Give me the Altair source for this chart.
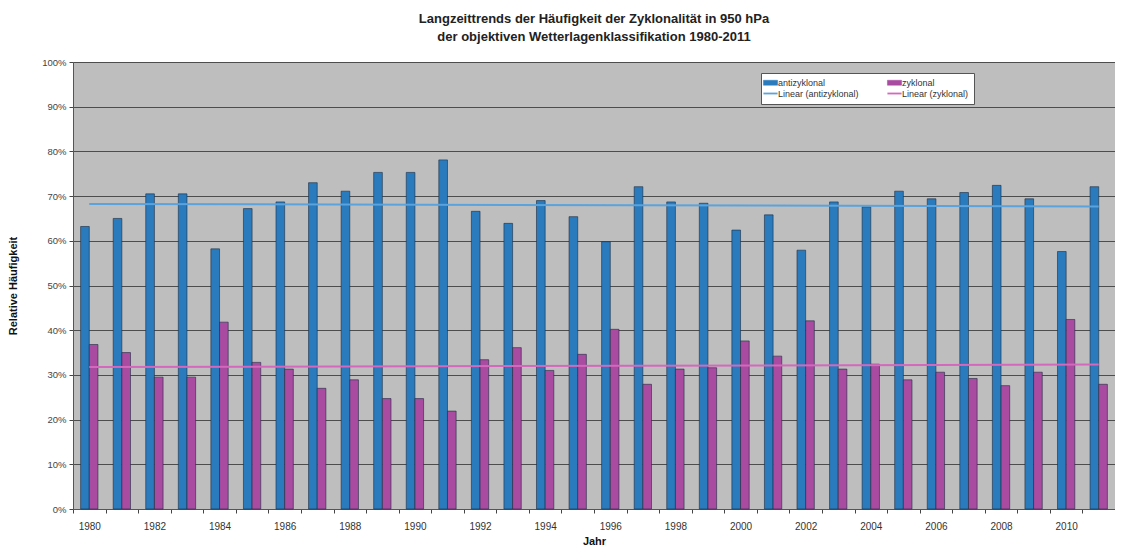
import altair as alt
import pandas as pd

years = list(range(1980, 2012))
antizyklonal = [63.2, 65.0, 70.5, 70.5, 58.2, 67.2, 68.7, 73.0, 71.1, 75.3, 75.3, 78.1,
                66.6, 63.9, 69.0, 65.4, 59.8, 72.1, 68.7, 68.4, 62.4, 65.8, 57.9, 68.7,
                67.6, 71.1, 69.4, 70.8, 72.4, 69.4, 57.6, 72.1]
zyklonal = [36.8, 35.0, 29.5, 29.5, 41.8, 32.8, 31.3, 27.0, 28.9, 24.7, 24.7, 21.9,
            33.4, 36.1, 31.0, 34.6, 40.2, 27.9, 31.3, 31.6, 37.6, 34.2, 42.1, 31.3,
            32.4, 28.9, 30.6, 29.2, 27.6, 30.6, 42.4, 27.9]
series_names = ["antizyklonal", "zyklonal"]
legend_names = ["antizyklonal", "zyklonal", "Linear (antizyklonal)", "Linear (zyklonal)"]
legend_colors = ["#2a7bbd", "#a94ba1", "#5aa3dc", "#d468bc"]
y_ticks = [0, 0.1, 0.2, 0.3, 0.4, 0.5, 0.6, 0.7, 0.8, 0.9, 1.0]
title_lines = ["Langzeittrends der Häufigkeit der Zyklonalität in 950 hPa",
               "der objektiven Wetterlagenklassifikation  1980-2011"]

rows = []
for i, yr in enumerate(years):
    rows.append({"year": yr, "Serie": "antizyklonal", "value": antizyklonal[i] / 100})
    rows.append({"year": yr, "Serie": "zyklonal", "value": zyklonal[i] / 100})
df = pd.DataFrame(rows)

FONT = "Liberation Sans"

color_scale = alt.Scale(domain=legend_names, range=legend_colors)

c = legend_colors
legend = alt.Legend(
    title=None, orient="none", legendX=688, legendY=11, columns=2, direction="horizontal",
    fillColor="white", strokeColor="#555555", padding=5,
    labelFont=FONT, labelFontSize=9, labelColor="#333333", labelOffset=3,
    columnPadding=24, rowPadding=1, symbolSize=200,
    symbolType={"expr": "datum.index >= 2 ? 'M-1,0H1' : 'M-1,-0.35H1V0.35H-1Z'"},
    symbolFillColor={"expr": f"datum.index == 0 ? '{c[0]}' : datum.index == 1 ? '{c[1]}' : 'transparent'"},
    symbolStrokeColor={"expr": f"datum.index == 2 ? '{c[2]}' : datum.index == 3 ? '{c[3]}' : '#333333'"},
    symbolStrokeWidth={"expr": "datum.index >= 2 ? 1.8 : 0.5"},
)

x_axis = alt.Axis(
    title="Jahr", labelAngle=0, tickBand="extent", tickSize=4, tickColor="#444444",
    domainColor="#555555", labelFont=FONT, labelFontSize=10, labelColor="#333333",
    labelPadding=8,
    labelExpr="datum.value % 2 == 0 ? datum.label : ''",
    titleFont=FONT, titleFontSize=11, titleFontWeight="bold", titleColor="#111111",
    titleY=26, titleBaseline="top", grid=False,
)
y_axis = alt.Axis(
    title="Relative Häufigkeit", values=y_ticks, format=".0%", grid=True,
    gridColor="#4d4d4d", gridWidth=1, tickSize=4, tickColor="#444444",
    domainColor="#555555", labelFont=FONT, labelFontSize=9.5, labelColor="#444444",
    labelPadding=3, titleFont=FONT, titleFontSize=11, titleFontWeight="bold",
    titleColor="#111111", titleX=-55,
)

x_enc = alt.X("year:O", axis=x_axis, scale=alt.Scale(paddingInner=0, paddingOuter=0))

bars = alt.Chart(df).mark_bar(stroke="#1d2c40", strokeWidth=0.6).encode(
    x=x_enc,
    xOffset=alt.XOffset("Serie:N", scale=alt.Scale(domain=series_names, paddingInner=0,
                                                   paddingOuter=0.88)),
    y=alt.Y("value:Q", scale=alt.Scale(domain=[0, 1]), axis=y_axis),
    color=alt.Color("Serie:N", scale=color_scale, legend=legend),
)

trends = alt.Chart(df).transform_regression(
    "year", "value", groupby=["Serie"]
).transform_calculate(
    Serie="'Linear (' + datum.Serie + ')'"
).mark_line(strokeWidth=2).encode(
    x=alt.X("year:O"),
    y=alt.Y("value:Q"),
    color=alt.Color("Serie:N", scale=color_scale, legend=legend),
)

chart = alt.layer(bars, trends).properties(
    width=1042, height=447,
    autosize=alt.AutoSizeParams(type="none"),
    padding={"left": 65, "top": 54, "right": 0, "bottom": 39},
    background="white",
    title=alt.TitleParams(text=title_lines, anchor="middle", font=FONT, fontSize=13,
                          fontWeight="bold", color="#222222", lineHeight=18,
                          baseline="top", offset=13),
).configure_view(fill="#bebebe", stroke=None)

chart.save("out.html", embed_options={"renderer": "svg", "actions": False})
